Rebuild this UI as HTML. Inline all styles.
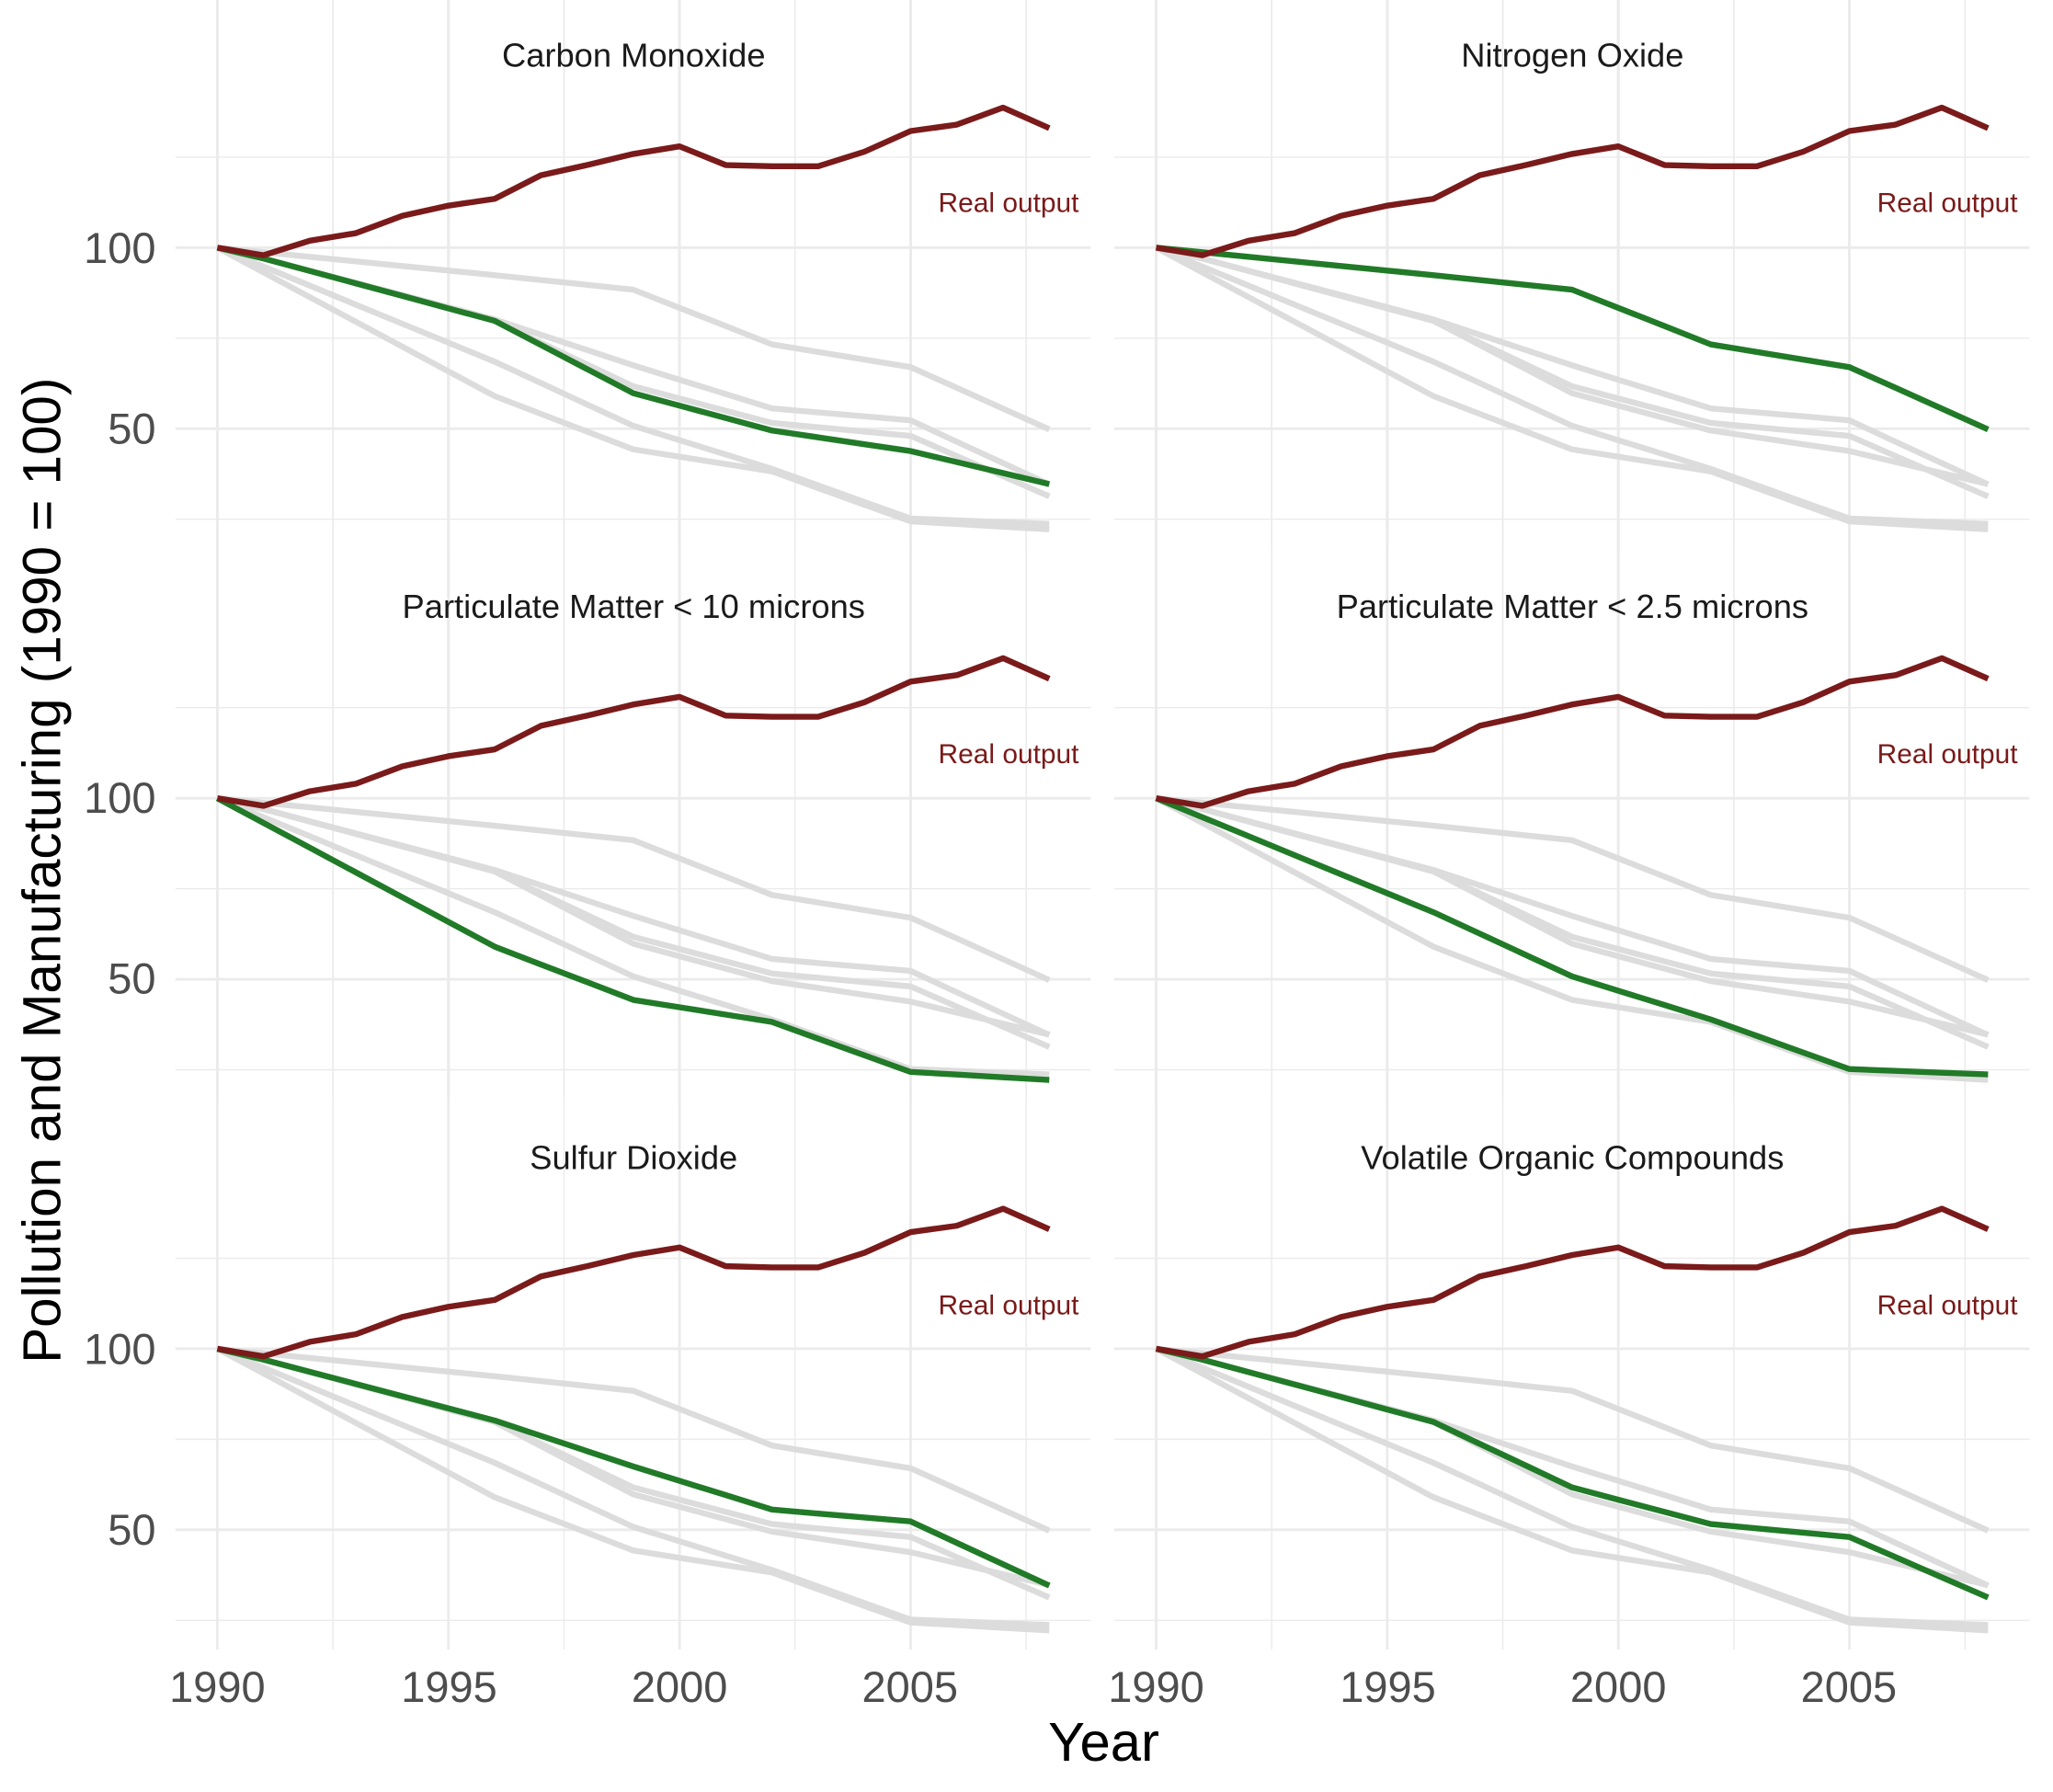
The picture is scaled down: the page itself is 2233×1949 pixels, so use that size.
<!DOCTYPE html>
<html><head><meta charset="utf-8"><style>
html,body{margin:0;padding:0;background:#fff;}
svg{display:block;}
text{font-family:"Liberation Sans",Arial,sans-serif;}
</style></head><body>
<svg id="s" width="2233" height="1949" viewBox="0 0 1568 1369" preserveAspectRatio="none" xmlns="http://www.w3.org/2000/svg">
<g id="grid"></g>
<g id="lines"></g>
<g fill="#1a1a1a" font-size="25.5" text-anchor="middle">
<text x="484" y="51">Carbon Monoxide</text>
<text x="1201" y="51">Nitrogen Oxide</text>
<text x="484" y="472">Particulate Matter &lt; 10 microns</text>
<text x="1201" y="472">Particulate Matter &lt; 2.5 microns</text>
<text x="484" y="893">Sulfur Dioxide</text>
<text x="1201" y="893">Volatile Organic Compounds</text>
</g>
<g fill="#7a1a1a" font-size="21" text-anchor="end">
<text x="824" y="162">Real output</text><text x="1541" y="162">Real output</text>
<text x="824" y="583">Real output</text><text x="1541" y="583">Real output</text>
<text x="824" y="1004">Real output</text><text x="1541" y="1004">Real output</text>
</g>
<g fill="#4d4d4d" font-size="33" text-anchor="end">
<text x="119" y="201">100</text><text x="119" y="339">50</text>
<text x="119" y="621">100</text><text x="119" y="759">50</text>
<text x="119" y="1042">100</text><text x="119" y="1180">50</text>
</g>
<g fill="#4d4d4d" font-size="33" text-anchor="middle">
<text x="166" y="1300">1990</text><text x="343" y="1300">1995</text><text x="519" y="1300">2000</text><text x="695" y="1300">2005</text>
<text x="883" y="1300">1990</text><text x="1060" y="1300">1995</text><text x="1236" y="1300">2000</text><text x="1412" y="1300">2005</text>
</g>
<text x="843" y="1345" font-size="42" text-anchor="middle" fill="#000">Year</text>
<text transform="translate(46,665) rotate(-90)" font-size="41" text-anchor="middle" fill="#000">Pollution and Manufacturing (1990 = 100)</text>
</svg>
<script>
var ns="http://www.w3.org/2000/svg";
function el(p,t,a){var e=document.createElementNS(ns,t);for(var k in a)e.setAttribute(k,a[k]);p.appendChild(e);return e;}
var grid=document.getElementById('grid'),lines=document.getElementById('lines');
function X(yr,c){return 166+(yr-1990)*35.3+c*717;}
function Y(v,r){return 189.2-(v-100)*2.766+r*420.6;}
function interp(pts){var out=[];for(var yr=1990;yr<=2008;yr++){for(var i=0;i<pts.length-1;i++){var a=pts[i],b=pts[i+1];if(yr>=a[0]&&yr<=b[0]){out.push([yr,a[1]+(b[1]-a[1])*(yr-a[0])/(b[0]-a[0])]);break;}}}return out;}
var real=[100,97.9,101.9,104,108.8,111.6,113.5,120,122.8,125.9,128,122.8,122.5,122.5,126.5,132.2,134,138.7,133].map(function(v,i){return[1990+i,v];});
var pol=[
 interp([[1990,100],[1991,97],[1996,79.8],[1999,59.8],[2002,49.5],[2005,43.8],[2008,34.7]]),
 interp([[1990,100],[1996,92.4],[1999,88.4],[2002,73.3],[2005,67],[2008,49.8]]),
 interp([[1990,100],[1996,59],[1999,44.3],[2002,38.2],[2005,24.4],[2008,22.2]]),
 interp([[1990,100],[1996,68.5],[1999,50.8],[2002,38.9],[2005,25.2],[2008,23.7]]),
 interp([[1990,100],[1991,97],[1996,80.2],[1999,67.5],[2002,55.6],[2005,52.3],[2008,34.6]]),
 interp([[1990,100],[1991,97],[1996,79.8],[1999,61.7],[2002,51.6],[2005,48],[2008,31.3]])
];
function pstr(d,c,r){return d.map(function(p){return X(p[0],c).toFixed(1)+','+Y(p[1],r).toFixed(1);}).join(' ');}
for(var i=0;i<6;i++){
 var c=i%2,r=Math.floor(i/2);
 var top=67+r*420.6,bot=419+r*420.6,l=134+c*717,rt=833+c*717;
 [1992.5,1997.5,2002.5,2007.5].forEach(function(y){el(grid,'line',{x1:X(y,c),x2:X(y,c),y1:top,y2:bot,stroke:'#ebebeb','stroke-width':1});});
 [25,75,125].forEach(function(v){el(grid,'line',{x1:l,x2:rt,y1:Y(v,r),y2:Y(v,r),stroke:'#ebebeb','stroke-width':1});});
 [1990,1995,2000,2005].forEach(function(y){el(grid,'line',{x1:X(y,c),x2:X(y,c),y1:top,y2:bot,stroke:'#ebebeb','stroke-width':2});});
 [50,100].forEach(function(v){el(grid,'line',{x1:l,x2:rt,y1:Y(v,r),y2:Y(v,r),stroke:'#ebebeb','stroke-width':2});});
 for(var j=0;j<6;j++){if(j!==i)el(lines,'polyline',{points:pstr(pol[j],c,r),fill:'none',stroke:'#dcdcdc','stroke-width':4.5,'stroke-linejoin':'round'});}
 el(lines,'polyline',{points:pstr(pol[i],c,r),fill:'none',stroke:'#217a27','stroke-width':4.5,'stroke-linejoin':'round'});
 el(lines,'polyline',{points:pstr(real,c,r),fill:'none',stroke:'#7a1a1a','stroke-width':4.5,'stroke-linejoin':'round'});
}
</script>
</body></html>
